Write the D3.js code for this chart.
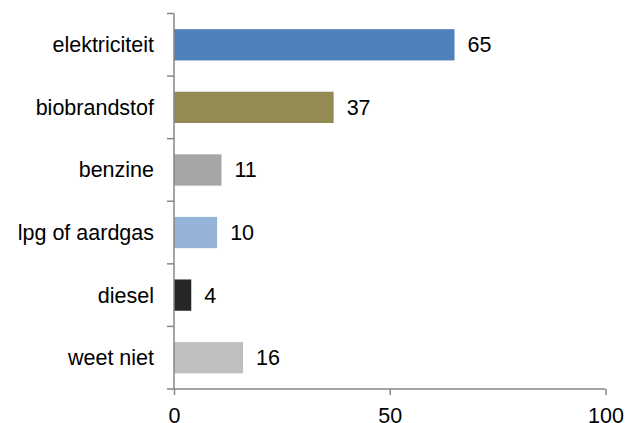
<!DOCTYPE html>
<html><head><meta charset="utf-8">
<script src="https://cdn.jsdelivr.net/npm/d3@7"></script>
<style>body{margin:0;background:#fff}svg{display:block}text{font-family:"Liberation Sans",Arial,sans-serif;fill:#000}</style>
</head><body>
<script>
const categories = ["elektriciteit","biobrandstof","benzine","lpg of aardgas","diesel","weet niet"];
const values = [65,37,11,10,4,16];
const colors = ["#4F81BD","#948A54","#A5A5A5","#95B3D7","#262626","#BFBFBF"];
const xTicks = [0,50,100];

const W=627,H=423,FS=21.5;
const svg=d3.select("body").append("svg").attr("width",W).attr("height",H);
const x=d3.scaleLinear().domain([0,100]).range([174,605.5]);
const y=d3.scaleBand().domain(categories).range([13.5,389]).paddingInner(0.5).paddingOuter(0.25);
const axisColor="#868686";

svg.selectAll("rect.bar").data(categories).join("rect")
  .attr("x",x(0)).attr("y",d=>y(d)).attr("width",(d,i)=>x(values[i])-x(0))
  .attr("height",y.bandwidth()).attr("fill",(d,i)=>colors[i]);

svg.selectAll("text.val").data(categories).join("text")
  .attr("x",(d,i)=>x(values[i])+13).attr("y",d=>y(d)+y.bandwidth()/2)
  .attr("dy","0.35em").attr("font-size",FS).text((d,i)=>values[i]);

// y axis
const yl=svg.append("g");
yl.append("line").attr("x1",x(0)).attr("x2",x(0)).attr("y1",13.5).attr("y2",389).attr("stroke",axisColor).attr("stroke-width",1.5);
const seps=d3.range(categories.length).map(i=>13.5+i*y.step());
yl.selectAll("line.t").data(seps).join("line").attr("x1",x(0)-7).attr("x2",x(0)).attr("y1",d=>d).attr("y2",d=>d).attr("stroke",axisColor).attr("stroke-width",1.5);
yl.selectAll("text").data(categories).join("text")
  .attr("x",x(0)-20).attr("y",d=>y(d)+y.bandwidth()/2).attr("dy","0.35em")
  .attr("text-anchor","end").attr("font-size",FS).text(d=>d);

// x axis
const xa=svg.append("g").attr("transform","translate(0,389)")
  .call(d3.axisBottom(x).tickValues(xTicks).tickSize(6).tickPadding(13).tickSizeOuter(0));
xa.select(".domain").attr("stroke",axisColor).attr("stroke-width",1.5).attr("d",`M${x(0)-7},0H${x(100)}`);
xa.selectAll(".tick line").attr("stroke",axisColor).attr("stroke-width",1.5);
xa.selectAll(".tick text").attr("font-size",FS).attr("font-family","'Liberation Sans',Arial,sans-serif").attr("fill","#000");
</script>
</body></html>
